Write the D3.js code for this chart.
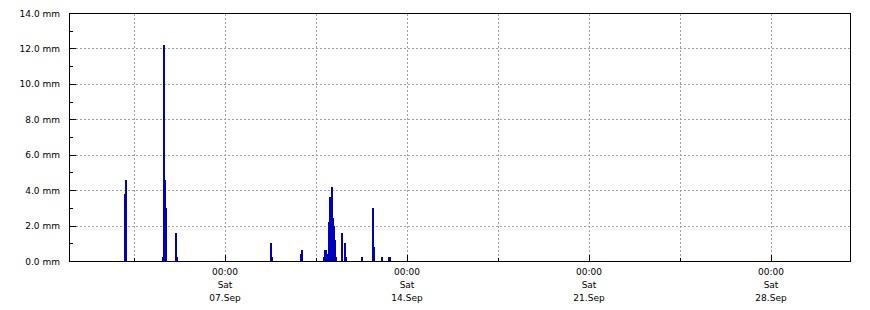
<!DOCTYPE html>
<html>
<head>
<meta charset="utf-8">
<script src="https://cdn.jsdelivr.net/npm/d3@7"></script>
<style>
    body { margin: 0; background: #fff; }
    svg { display: block; font-family: 'DejaVu Sans', sans-serif; font-size: 9px; }
    .rn-bar { fill: #0000bf; shape-rendering: crispEdges; }
    .rn-grid { stroke: #a0a0a0; stroke-dasharray: 2,2; shape-rendering: crispEdges; }
    .rn-frame { stroke: #000; fill: none; shape-rendering: crispEdges; }
    .rn-tick { stroke: #000; shape-rendering: crispEdges; }
    .rn-label { fill: #000; }
</style>
</head>
<body>
<svg id="rain_svg"></svg>
<script>
'use strict';

// hourly rain sums
const times = [
    '2019-09-03 02:00', '2019-09-03 03:00',
    '2019-09-04 13:00', '2019-09-04 14:00', '2019-09-04 15:00', '2019-09-04 16:00',
    '2019-09-05 01:00', '2019-09-05 02:00',
    '2019-09-08 17:00', '2019-09-08 18:00',
    '2019-09-09 21:00', '2019-09-09 22:00',
    '2019-09-10 18:00', '2019-09-10 19:00', '2019-09-10 20:00', '2019-09-10 22:00',
    '2019-09-10 23:00', '2019-09-11 00:00', '2019-09-11 01:00', '2019-09-11 02:00',
    '2019-09-11 03:00', '2019-09-11 04:00', '2019-09-11 05:00',
    '2019-09-11 11:00', '2019-09-11 13:00', '2019-09-11 14:00',
    '2019-09-12 05:00',
    '2019-09-12 15:00', '2019-09-12 16:00',
    '2019-09-13 00:00',
    '2019-09-13 06:00', '2019-09-13 07:00'
];
const rain = [
    3.8, 4.6,
    0.2, 12.2, 4.6, 3.0,
    1.6, 0.2,
    1.0, 0.2,
    0.4, 0.6,
    0.2, 0.6, 0.6, 0.4,
    2.2, 3.6, 4.2, 2.4,
    2.0, 1.2, 0.2,
    1.6, 1.0, 0.2,
    0.2,
    3.0, 0.8,
    0.2,
    0.2, 0.2
];

const x_domain = ['2019-09-01 00:00', '2019-10-01 00:00'];
const y_domain = [0, 14];
const y_ticks = [0, 2, 4, 6, 8, 10, 12, 14];
const y_minor = [1, 3, 5, 7, 9, 11, 13];
const x_labels = ['2019-09-07 00:00', '2019-09-14 00:00', '2019-09-21 00:00', '2019-09-28 00:00'];
const x_minor = ['2019-09-03 12:00', '2019-09-10 12:00', '2019-09-17 12:00', '2019-09-24 12:00'];

const fig_rain = {
    svg: null,
    width: 870,
    height: 310,
    left: 69,
    right: 849,
    top: 13,
    bottom: 261,
    bar_w: 2,

    init: function() {
        this.svg = d3.select('#rain_svg')
            .attr('width', this.width)
            .attr('height', this.height);
        this.parse = d3.timeParse('%Y-%m-%d %H:%M');
        this.x_scale = d3.scaleTime()
            .domain(x_domain.map(this.parse))
            .range([this.left, this.right]);
        this.y_scale = d3.scaleLinear()
            .domain(y_domain)
            .range([this.bottom, this.top]);
    },

    draw: function() {
        let _this = this;
        const px = v => Math.round(v) + 0.5;
        const grid_x = x_labels.concat(x_minor).map(this.parse);

        // dashed grid
        this.svg.selectAll('.rn-grid-y')
            .data(y_ticks.slice(1, -1))
            .enter().append('line')
            .attr('class', 'rn-grid')
            .attr('x1', this.left + 7).attr('x2', this.right + 1)
            .attr('y1', d => px(_this.y_scale(d)))
            .attr('y2', d => px(_this.y_scale(d)));
        this.svg.selectAll('.rn-grid-x')
            .data(grid_x)
            .enter().append('line')
            .attr('class', 'rn-grid')
            .attr('x1', d => px(_this.x_scale(d)))
            .attr('x2', d => px(_this.x_scale(d)))
            .attr('y1', this.top + 1).attr('y2', this.bottom - 3);

        // bars (hour sums, drawn just right of the hour start)
        const vals = times.map((t, i) => ({t: this.parse(t), v: rain[i]}));
        this.svg.selectAll('.rn-bar')
            .data(vals)
            .enter().append('rect')
            .attr('class', 'rn-bar')
            .attr('x', d => Math.ceil(_this.x_scale(d.t)))
            .attr('y', d => Math.round(_this.y_scale(d.v)))
            .attr('width', this.bar_w)
            .attr('height', d => _this.bottom - Math.round(_this.y_scale(d.v)));

        // frame
        this.svg.append('rect')
            .attr('class', 'rn-frame')
            .attr('x', this.left + 0.5).attr('y', this.top + 0.5)
            .attr('width', this.right - this.left + 1)
            .attr('height', this.bottom - this.top);

        // y ticks, inside the frame
        this.svg.selectAll('.rn-ytick')
            .data(y_ticks.slice(1, -1))
            .enter().append('line')
            .attr('class', 'rn-tick')
            .attr('x1', this.left).attr('x2', this.left + 7)
            .attr('y1', d => px(_this.y_scale(d)))
            .attr('y2', d => px(_this.y_scale(d)));
        this.svg.selectAll('.rn-ytick-m')
            .data(y_minor)
            .enter().append('line')
            .attr('class', 'rn-tick')
            .attr('x1', this.left).attr('x2', this.left + 4)
            .attr('y1', d => px(_this.y_scale(d)))
            .attr('y2', d => px(_this.y_scale(d)));

        // x ticks
        this.svg.selectAll('.rn-xtick')
            .data(x_labels.map(this.parse))
            .enter().append('line')
            .attr('class', 'rn-tick')
            .attr('x1', d => px(_this.x_scale(d)))
            .attr('x2', d => px(_this.x_scale(d)))
            .attr('y1', this.bottom).attr('y2', this.bottom - 6);
        this.svg.selectAll('.rn-xtick-m')
            .data(x_minor.map(this.parse))
            .enter().append('line')
            .attr('class', 'rn-tick')
            .attr('x1', d => px(_this.x_scale(d)))
            .attr('x2', d => px(_this.x_scale(d)))
            .attr('y1', this.bottom).attr('y2', this.bottom - 3);

        // y labels
        this.svg.selectAll('.rn-ylab')
            .data(y_ticks)
            .enter().append('text')
            .attr('class', 'rn-label')
            .attr('x', this.left - 9)
            .attr('y', d => _this.y_scale(d) + 3.5)
            .attr('text-anchor', 'end')
            .text(d => d.toFixed(1) + ' mm');

        // x labels, three lines each
        const fmts = [d3.timeFormat('%H:%M'), d3.timeFormat('%a'), d3.timeFormat('%d.%b')];
        const labs = this.svg.selectAll('.rn-xlab')
            .data(x_labels.map(this.parse))
            .enter().append('text')
            .attr('class', 'rn-label')
            .attr('text-anchor', 'middle')
            .attr('transform', d => 'translate(' + _this.x_scale(d) + ',' + (_this.bottom + 14) + ')');
        fmts.forEach((f, i) => {
            labs.append('tspan')
                .attr('x', 0)
                .attr('y', i * 13)
                .text(d => f(d));
        });
    }
};

fig_rain.init();
fig_rain.draw();
</script>
</body>
</html>
